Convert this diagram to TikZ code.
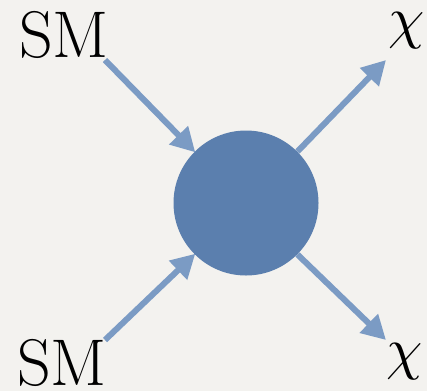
\documentclass[tikz,border=0pt]{standalone}
\usepackage{graphicx}
\usetikzlibrary{arrows.meta}
\definecolor{bgc}{HTML}{F3F2EF}
\definecolor{blobc}{HTML}{5B7FAE}
\definecolor{arrc}{HTML}{7B9BC4}
\newcommand{\bigchi}{\scalebox{5.8}{$\chi$}}
\begin{document}
\begin{tikzpicture}[x=1pt,y=-1pt,
  lbl/.style={inner sep=0pt,font=\fontsize{66}{72}\selectfont},
  flow/.style={arrc,line width=6pt,-{Triangle[length=24pt,width=25pt]},shorten >=-1pt}]
\fill[bgc] (0,0) rectangle (427,391);
\useasboundingbox (0,0) rectangle (427,391);
\node[circle,fill=blobc,minimum size=145pt,inner sep=0pt] (blob) at (246,203) {};
\node[lbl,anchor=base west] (smtop) at (19,57) {SM};
\node[lbl,anchor=base west] (smbot) at (17,385) {SM};
\node[inner sep=0pt,anchor=north west] (chitop) at (388,12) {\bigchi};
\node[inner sep=0pt,anchor=north west] (chibot) at (386,343) {\bigchi};
\coordinate (a1) at (105,60);
\coordinate (a2) at (105,340);
\coordinate (b1) at (386,60);
\coordinate (b2) at (386,340);
\draw[flow] (a1) -- (blob.north west);
\draw[flow] (a2) -- (blob.south west);
\draw[flow,shorten >=0pt] (blob.north east) -- (b1);
\draw[flow,shorten >=0pt] (blob.south east) -- (b2);
\end{tikzpicture}
\end{document}
